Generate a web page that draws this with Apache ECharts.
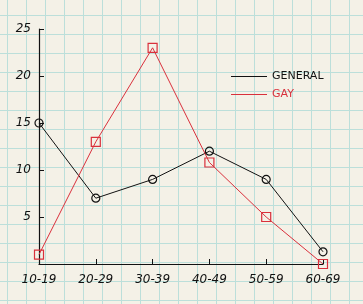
<!DOCTYPE html>
<html><head><meta charset="utf-8">
<script src="https://cdn.jsdelivr.net/npm/echarts@6/dist/echarts.min.js"></script>
<style>
html,body{margin:0;padding:0;}
#c{width:363px;height:304px;
background-color:#f4f1e7;
background-image:
 repeating-linear-gradient(to right, transparent 0px, transparent 7px, #bcdfda 7px, #bcdfda 8px, transparent 8px, transparent 19px),
 repeating-linear-gradient(to bottom, transparent 0px, transparent 15px, #bcdfda 15px, #bcdfda 16px, transparent 16px, transparent 19px);
}
</style></head>
<body><div id="c"></div>
<script>
const categories = ['10-19','20-29','30-39','40-49','50-59','60-69'];
const generalValues = [15, 7, 9, 12, 9, 1.3];
const gayValues = [1, 13, 23, 10.8, 5, 0];
const yTicks = [0, 5, 10, 15, 20, 25];

const chart = echarts.init(document.getElementById('c'));
const font = '"DejaVu Sans", sans-serif';
chart.setOption({
  backgroundColor: 'transparent',
  animation: false,
  grid: {left: 39, right: 40, top: 29, bottom: 40},
  legend: {
    orient: 'vertical', left: 226, top: 66, itemGap: 7,
    itemWidth: 36, itemHeight: 1, icon: 'rect', selectedMode: false,
    itemStyle: {borderWidth: 0},
    data: [
      {name: 'GENERAL', textStyle: {color: '#111'}, itemStyle: {color: '#111', borderWidth: 0}},
      {name: 'GAY', textStyle: {color: '#d9303c'}, itemStyle: {color: '#d9303c', borderWidth: 0}}
    ],
    textStyle: {fontFamily: font, fontSize: 11}
  },
  xAxis: {
    type: 'category', data: categories, boundaryGap: false,
    axisLine: {lineStyle: {color: '#111', width: 1.2}},
    axisTick: {inside: true, length: 5, lineStyle: {color: '#111'}, interval: 0},
    axisLabel: {color: '#111', fontFamily: font, fontStyle: 'italic', fontSize: 12, margin: 10},
    splitLine: {show: false}
  },
  yAxis: {
    type: 'value', min: yTicks[0], max: yTicks[yTicks.length-1], interval: 5,
    axisLine: {show: true, lineStyle: {color: '#111', width: 1.2}},
    axisTick: {show: true, inside: true, length: 5, lineStyle: {color: '#111'}},
    axisLabel: {color: '#111', fontFamily: font, fontStyle: 'italic', fontSize: 12, margin: 8,
      formatter: v => v === 0 ? '' : String(v)},
    splitLine: {show: false}
  },
  series: [
    {name: 'GENERAL', type: 'line', data: generalValues, color: '#111',
     symbol: 'circle', symbolSize: 8, showAllSymbol: true,
     lineStyle: {width: 1, color: '#111'},
     itemStyle: {color: 'transparent', borderColor: '#111', borderWidth: 1.2}},
    {name: 'GAY', type: 'line', data: gayValues, color: '#d9303c',
     symbol: 'rect', symbolSize: 9, showAllSymbol: true,
     lineStyle: {width: 1, color: '#d9303c'},
     itemStyle: {color: 'transparent', borderColor: '#d9303c', borderWidth: 1.2}}
  ]
});
</script></body></html>
